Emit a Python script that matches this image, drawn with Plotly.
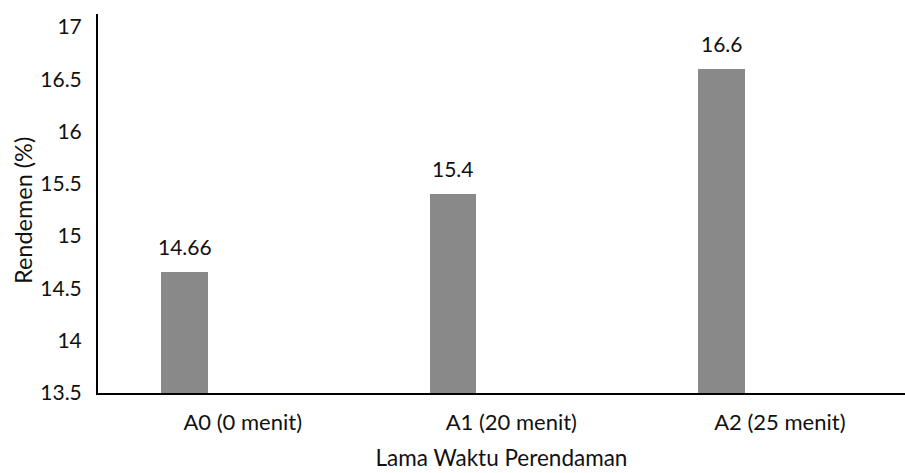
import plotly.graph_objects as go

# Rendemen per lama waktu perendaman
categories = ["A0 (0 menit)", "A1 (20 menit)", "A2 (25 menit)"]
rendemen = [14.66, 15.4, 16.6]
y_ticks = [13.5, 14, 14.5, 15, 15.5, 16, 16.5, 17]
y_tick_text = ["13.5", "14", "14.5", "15", "15.5", "16", "16.5", "17"]
value_labels = ["14.66", "15.4", "16.6"]

FONT = "Lato"
TEXT = "#111111"
BAR = "#898989"

bar_offset = -0.303
bar_width = 0.173

fig = go.Figure()
fig.add_trace(go.Bar(
    x=categories,
    y=rendemen,
    offset=bar_offset,
    width=bar_width,
    marker=dict(color=BAR, line=dict(width=0)),
    hoverinfo="skip",
    showlegend=False,
))

# value labels above each bar, centred on the bar
bar_center = bar_offset + bar_width / 2
for i, (v, t) in enumerate(zip(rendemen, value_labels)):
    fig.add_annotation(
        x=i + bar_center, y=v, text=t, showarrow=False,
        yanchor="bottom", xanchor="center", yshift=11,
        font=dict(family=FONT, size=21, color=TEXT),
    )

# y-axis title, centred slightly below the middle of the plot
fig.add_annotation(
    text="Rendemen (%)", textangle=-90,
    xref="paper", yref="paper", x=0, xshift=-75, y=0.48,
    xanchor="center", yanchor="middle", showarrow=False,
    font=dict(family=FONT, size=23.5, color=TEXT),
)

fig.update_layout(
    width=905, height=473,
    margin=dict(l=98, r=0, t=14, b=80),
    paper_bgcolor="white", plot_bgcolor="white",
    font=dict(family=FONT, size=22, color=TEXT),
    bargap=0,
)

fig.update_xaxes(
    type="category",
    range=[-0.539, 2.466],
    showline=True, linecolor="black", linewidth=2,
    showgrid=False, zeroline=False, ticks="",
    ticklabelstandoff=9,
    tickfont=dict(family=FONT, size=22, color=TEXT),
    title=dict(text="Lama Waktu Perendaman", standoff=16,
               font=dict(family=FONT, size=22.5, color=TEXT)),
)
fig.update_yaxes(
    range=[13.5, 17.124],
    tickvals=y_ticks, ticktext=y_tick_text,
    showline=True, linecolor="black", linewidth=2,
    showgrid=False, zeroline=False, ticks="",
    ticklabelstandoff=10,
    tickfont=dict(family=FONT, size=21, color=TEXT),
)

fig.write_html("out.html")
